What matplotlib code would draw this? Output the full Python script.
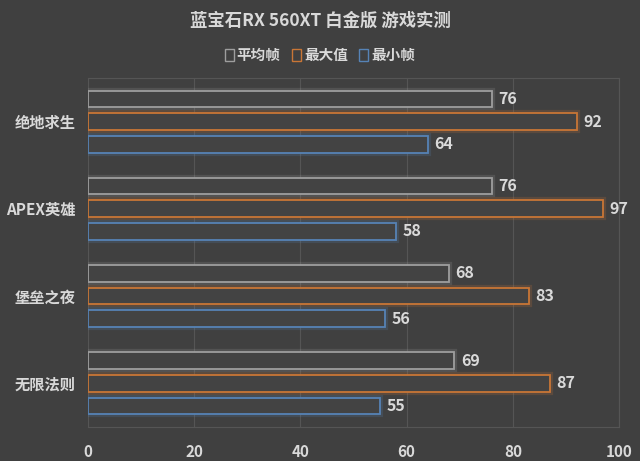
import matplotlib.pyplot as plt
import matplotlib.patheffects as pe
from matplotlib.patches import Patch
import numpy as np

plt.rcParams['font.family'] = ['Noto Sans CJK SC', 'DejaVu Sans']

# 数据
juegos = ['绝地求生', 'APEX英雄', '堡垒之夜', '无限法则']
series = ['平均帧', '最大值', '最小帧']
promedio = [76, 76, 68, 69]
maximo = [92, 97, 83, 87]
minimo = [64, 58, 56, 55]
colores = ['#9e9e9e', '#c97636', '#5683b6']

bg = '#404040'
txt = '#d9d9d9'

fig = plt.figure(figsize=(6.4, 4.61), dpi=100, facecolor=bg)
ax = fig.add_axes([0.1375, 0.074, 0.8297, 0.757])
ax.set_facecolor(bg)

y = np.arange(len(juegos))
alto = 0.19
sep = 0.26
for i, (vals, c) in enumerate(zip([promedio, maximo, minimo], colores)):
    pos = y + (i - 1) * sep
    barras = ax.barh(pos, vals, height=alto, facecolor='#434343', edgecolor=c,
                     linewidth=1.3, zorder=3)
    for b in barras:
        b.set_path_effects([pe.Stroke(linewidth=4.5, foreground=c, alpha=0.2), pe.Normal()])
    for p, v in zip(pos, vals):
        ax.text(v + 1.2, p, str(v), va='center', ha='left', color=txt,
                fontsize=11.5, fontweight='bold', zorder=4)

ax.set_xlim(0, 100)
ax.set_ylim(len(juegos) - 0.5, -0.5)
ax.set_xticks(np.arange(0, 101, 20))
ax.set_yticks(y)
ax.set_yticklabels(juegos)
ax.tick_params(axis='both', length=0, colors=txt, labelsize=11)
ax.tick_params(axis='x', pad=12)
ax.tick_params(axis='y', pad=9)
for lab in ax.get_xticklabels() + ax.get_yticklabels():
    lab.set_fontweight('bold')
ax.grid(axis='x', color='#555555', linewidth=0.8, zorder=0)
for s in ax.spines.values():
    s.set_visible(True)
    s.set_color('#555555')
    s.set_linewidth(0.8)
ax.spines['left'].set_visible(False)

fig.text(0.5, 0.955, '蓝宝石RX 560XT 白金版 游戏实测', ha='center', va='center',
         color=txt, fontsize=12.5, fontweight='bold')

handles = [Patch(facecolor='none', edgecolor=c, linewidth=1.0) for c in colores]
fig.legend(handles, series, loc='center', bbox_to_anchor=(0.5, 0.88), ncol=3,
           frameon=False, handlelength=0.6, handleheight=0.9, handletextpad=0.2,
           columnspacing=0.8, labelcolor=txt, prop={'size': 10.5, 'weight': 'bold'})

fig.savefig('out.png', dpi=100, facecolor=bg)
